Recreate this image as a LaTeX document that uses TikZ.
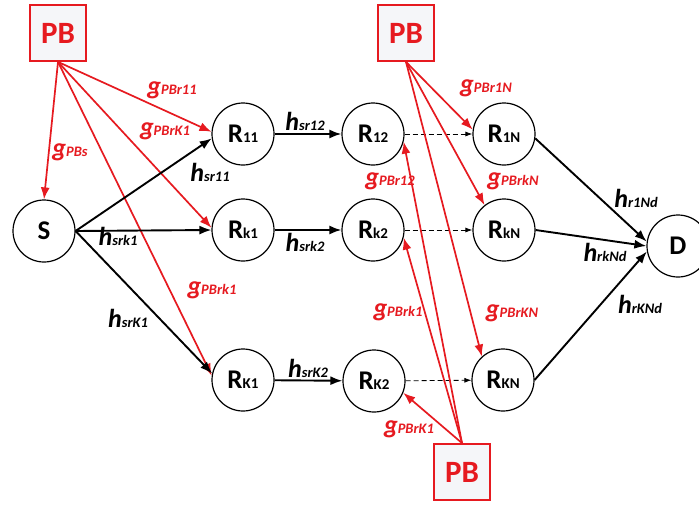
\documentclass[tikz,border=0pt]{standalone}
\usepackage{fontspec}
\setmainfont{Carlito}
\usetikzlibrary{arrows.meta}
\definecolor{pbred}{RGB}{230,26,32}
\definecolor{boxfill}{RGB}{245,246,249}
% channel symbol with its index set slightly smaller
\newcommand\chlabel[2]{{\fontsize{26}{26}\selectfont #1}{\fontsize{14.5}{14.5}\selectfont #2}}
% relay name R with its index
\newcommand\relayname[1]{R{\fontsize{15}{15}\selectfont #1}}
\tikzset{
  relaynode/.style={circle, draw=black, line width=1.2pt, minimum size=62pt, inner sep=0pt,
    fill=white, font=\fontsize{27}{27}\selectfont\bfseries},
  beacon/.style={rectangle, draw=pbred, line width=1.8pt, minimum size=56pt, inner sep=0pt,
    fill=boxfill, text=pbred, font=\fontsize{31}{31}\selectfont\bfseries},
  hop/.style={line width=1.9pt, -{Latex[length=12pt,width=9pt]}},
  wpt/.style={line width=1.7pt, draw=pbred, -{Latex[length=12pt,width=9pt]}},
  skip/.style={line width=0.8pt, dash pattern=on 5pt off 3pt, -{Latex[length=7pt,width=5pt]}},
  glabel/.style={text=pbred, font=\bfseries\itshape, inner sep=0pt},
  hlabel/.style={text=black, font=\bfseries\itshape, inner sep=0pt}
}
\begin{document}
\begin{tikzpicture}[x=1pt,y=-1pt]
\useasboundingbox (0,0) rectangle (699,507);
\fill[white] (0,0) rectangle (699,507);

% power beacons
\node[beacon] (pbA) at (58,33) {PB};
\node[beacon] (pbB) at (406,33) {PB};
\node[beacon] (pbC) at (462,472) {PB};

% source, relays, destination
\node[relaynode] (s) at (44,231) {S};
\node[relaynode] (r11) at (243,134) {\relayname{11}};
\node[relaynode] (rk1) at (243,230) {\relayname{k1}};
\node[relaynode] (rK1) at (243,380) {\relayname{K1}};
\node[relaynode] (r12) at (373,134) {\relayname{12}};
\node[relaynode] (rk2) at (373,230) {\relayname{k2}};
\node[relaynode] (rK2) at (374,381) {\relayname{K2}};
\node[relaynode] (r1N) at (504,134) {\relayname{1N}};
\node[relaynode] (rkN) at (504,230) {\relayname{kN}};
\node[relaynode] (rKN) at (503,380) {\relayname{KN}};
\node[relaynode] (d) at (678,246) {D};

% energy links from the upper-left beacon
\draw[wpt] (pbA.south) -- (s.north);
\draw[wpt] (pbA.south) -- (r11.176);
\draw[wpt] (pbA.south) -- (rk1.176);
\draw[wpt] (pbA.south) -- (rK1.172);

% first hop from the source
\draw[hop] (s.east) -- (r11.188);
\draw[hop] (s.east) -- (rk1.west);
\draw[hop] (s.east) -- (rK1.168);

% second hop
\draw[hop] (r11) -- (r12);
\draw[hop] (rk1) -- (rk2);
\draw[hop] (rK1) -- (rK2);

% intermediate hops
\draw[skip] (r12) -- (r1N);
\draw[skip] (rk2) -- (rkN);
\draw[skip] (rK2) -- (rKN);

% energy links from the upper-right beacon
\draw[wpt] (pbB.south) -- (r1N.172);
\draw[wpt] (pbB.south) -- (rkN.128);
\draw[wpt] (pbB.south) -- (rKN.132);

% energy links from the lower beacon
\draw[wpt] (pbC.north) -- (r12.-14);
\draw[wpt] (pbC.north) -- (rk2.-14);
\draw[wpt] (pbC.north) -- (rK2.-22);

% last hop to the destination
\draw[hop] (r1N.-8) -- (d.172);
\draw[hop] (rkN.east) -- (d.180);
\draw[hop] (rKN.east) -- (d.190);

% channel labels
\node[glabel] at (172,90) {\chlabel{g}{PBr11}};
\node[glabel] at (165,131) {\chlabel{g}{PBrK1}};
\node[glabel] at (70,152) {\chlabel{g}{PBs}};
\node[glabel] at (212,290) {\chlabel{g}{PBrk1}};
\node[glabel] at (390,181) {\chlabel{g}{PBr12}};
\node[glabel] at (486,88) {\chlabel{g}{PBr1N}};
\node[glabel] at (513,181) {\chlabel{g}{PBrkN}};
\node[glabel] at (398,312) {\chlabel{g}{PBrk1}};
\node[glabel] at (512,313) {\chlabel{g}{PBrKN}};
\node[glabel] at (409,429) {\chlabel{g}{PBrK1}};

\node[hlabel] at (210,172) {\chlabel{h}{sr11}};
\node[hlabel] at (118,236) {\chlabel{h}{srk1}};
\node[hlabel] at (128,318) {\chlabel{h}{srK1}};
\node[hlabel] at (305,121) {\chlabel{h}{sr12}};
\node[hlabel] at (305,242) {\chlabel{h}{srk2}};
\node[hlabel] at (308,368) {\chlabel{h}{srK2}};
\node[hlabel] at (636,198) {\chlabel{h}{r1Nd}};
\node[hlabel] at (605,252) {\chlabel{h}{rkNd}};
\node[hlabel] at (640,304) {\chlabel{h}{rKNd}};
\end{tikzpicture}
\end{document}
